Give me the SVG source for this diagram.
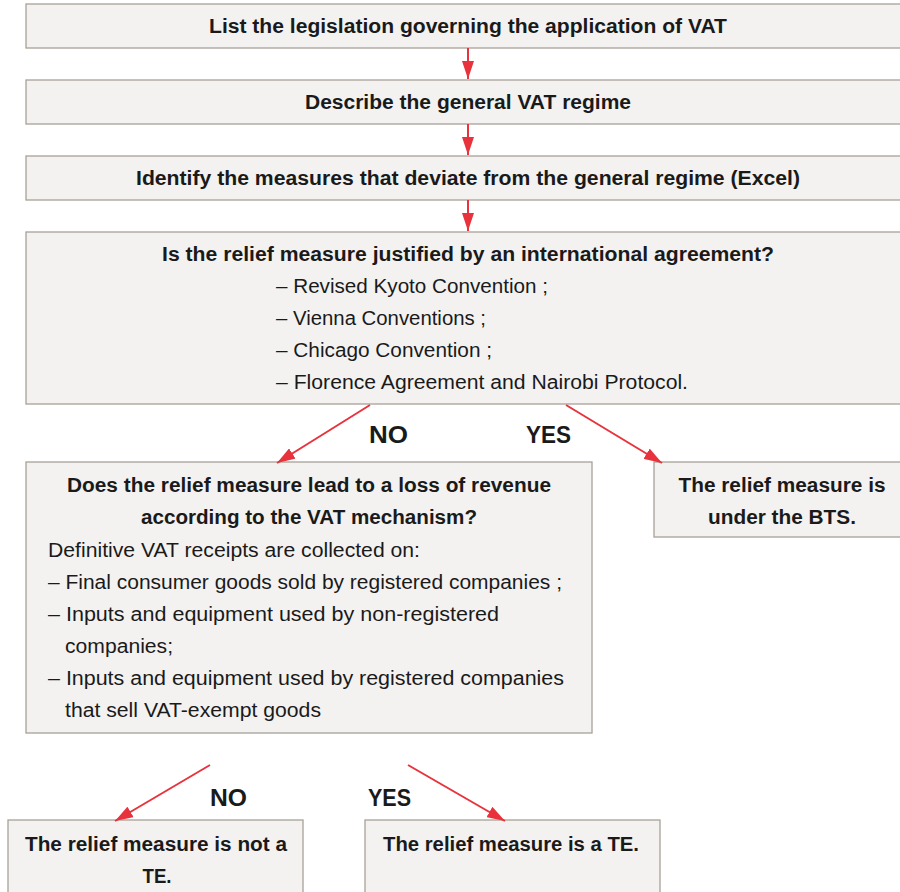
<svg xmlns="http://www.w3.org/2000/svg" width="900" height="892" viewBox="0 0 900 892">
<style>
.box{fill:#f3f2f1;stroke:#aaa098;stroke-width:1.3}
.b{font-family:"Liberation Sans",Arial,sans-serif;font-weight:bold;font-size:19.5px;fill:#1a1a1a}
.r{font-family:"Liberation Sans",Arial,sans-serif;font-size:20px;fill:#1a1a1a}
.lbl{font-family:"Liberation Sans",Arial,sans-serif;font-weight:bold;font-size:23px;fill:#1a1a1a}
.c{text-anchor:middle}
.ln{stroke:#e8333c;stroke-width:2;fill:none}
</style>
<defs>
<marker id="ah" viewBox="0 0 18 12" refX="18" refY="6" markerWidth="18" markerHeight="12" markerUnits="userSpaceOnUse" orient="auto">
<path d="M0,0 L18,6 L0,12 Z" fill="#e8333c"/>
</marker>
</defs>
<g id="n1"><rect class="box" x="26" y="4" width="880" height="44"/>
<text class="b c" x="468" y="33" textLength="518" lengthAdjust="spacingAndGlyphs">List the legislation governing the application of VAT</text></g>
<g id="n2"><rect class="box" x="26" y="80" width="880" height="44"/>
<text class="b c" x="468" y="109" textLength="326" lengthAdjust="spacingAndGlyphs">Describe the general VAT regime</text></g>
<g id="n3"><rect class="box" x="26" y="156" width="880" height="44"/>
<text class="b c" x="468" y="185" textLength="664" lengthAdjust="spacingAndGlyphs">Identify the measures that deviate from the general regime (Excel)</text></g>
<g id="n4"><rect class="box" x="26" y="232" width="880" height="172"/>
<text class="b c" x="468" y="261" textLength="612" lengthAdjust="spacingAndGlyphs">Is the relief measure justified by an international agreement?</text>
<text class="r" x="276" y="293" textLength="272" lengthAdjust="spacingAndGlyphs">– Revised Kyoto Convention ;</text>
<text class="r" x="276" y="325" textLength="210" lengthAdjust="spacingAndGlyphs">– Vienna Conventions ;</text>
<text class="r" x="276" y="357" textLength="216" lengthAdjust="spacingAndGlyphs">– Chicago Convention ;</text>
<text class="r" x="276" y="389" textLength="412" lengthAdjust="spacingAndGlyphs">– Florence Agreement and Nairobi Protocol.</text></g>
<g id="n5"><rect class="box" x="26" y="462" width="566" height="271"/>
<text class="b c" x="309" y="492" textLength="484" lengthAdjust="spacingAndGlyphs">Does the relief measure lead to a loss of revenue</text>
<text class="b c" x="309" y="524" textLength="336" lengthAdjust="spacingAndGlyphs">according to the VAT mechanism?</text>
<text class="r" x="48" y="557" textLength="372" lengthAdjust="spacingAndGlyphs">Definitive VAT receipts are collected on:</text>
<text class="r" x="48" y="589" textLength="514" lengthAdjust="spacingAndGlyphs">– Final consumer goods sold by registered companies ;</text>
<text class="r" x="48" y="621" textLength="451" lengthAdjust="spacingAndGlyphs">– Inputs and equipment used by non-registered</text>
<text class="r" x="65" y="653" textLength="108" lengthAdjust="spacingAndGlyphs">companies;</text>
<text class="r" x="48" y="685" textLength="516" lengthAdjust="spacingAndGlyphs">– Inputs and equipment used by registered companies</text>
<text class="r" x="65" y="717" textLength="256" lengthAdjust="spacingAndGlyphs">that sell VAT-exempt goods</text></g>
<g id="n6"><rect class="box" x="654" y="462" width="252" height="75"/>
<text class="b c" x="782" y="492" textLength="207" lengthAdjust="spacingAndGlyphs">The relief measure is</text>
<text class="b c" x="782" y="524" textLength="148" lengthAdjust="spacingAndGlyphs">under the BTS.</text></g>
<g id="n7"><rect class="box" x="8" y="820" width="295" height="80"/>
<text class="b c" x="156" y="851" textLength="262" lengthAdjust="spacingAndGlyphs">The relief measure is not a</text>
<text class="b c" x="157" y="883" textLength="29" lengthAdjust="spacingAndGlyphs">TE.</text></g>
<g id="n8"><rect class="box" x="365" y="820" width="295" height="80"/>
<text class="b c" x="511" y="851" textLength="256" lengthAdjust="spacingAndGlyphs">The relief measure is a TE.</text></g>
<g id="connectors">
<line class="ln" x1="468" y1="48" x2="468" y2="79" marker-end="url(#ah)"/>
<line class="ln" x1="468" y1="124" x2="468" y2="155" marker-end="url(#ah)"/>
<line class="ln" x1="468" y1="200" x2="468" y2="231" marker-end="url(#ah)"/>
<line class="ln" x1="370" y1="405" x2="277" y2="463" marker-end="url(#ah)"/>
<line class="ln" x1="566" y1="405" x2="662" y2="463" marker-end="url(#ah)"/>
<line class="ln" x1="210" y1="765" x2="115" y2="821" marker-end="url(#ah)"/>
<line class="ln" x1="408" y1="765" x2="505" y2="821" marker-end="url(#ah)"/>
<text class="lbl" x="369" y="443" textLength="39" lengthAdjust="spacingAndGlyphs">NO</text>
<text class="lbl" x="526" y="443" textLength="45" lengthAdjust="spacingAndGlyphs">YES</text>
<text class="lbl" x="210" y="806" textLength="37" lengthAdjust="spacingAndGlyphs">NO</text>
<text class="lbl" x="368" y="806" textLength="43" lengthAdjust="spacingAndGlyphs">YES</text>
</g>
</svg>
